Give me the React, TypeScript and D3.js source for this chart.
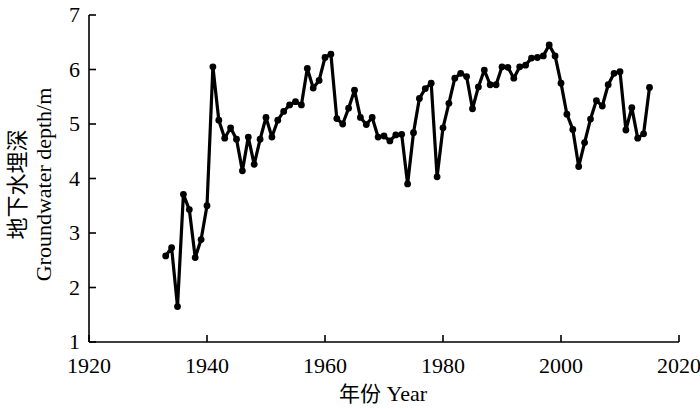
import * as d3 from 'd3'

const years = d3.range(1933, 2016)
const depth = [
  2.58, 2.73, 1.65, 3.71, 3.43, 2.55, 2.88, 3.5, 6.05, 5.07,
  4.74, 4.93, 4.72, 4.14, 4.76, 4.26, 4.72, 5.12, 4.76, 5.07,
  5.23, 5.35, 5.41, 5.35, 6.02, 5.66, 5.8, 6.22, 6.28, 5.1,
  5.0, 5.29, 5.62, 5.12, 4.99, 5.12, 4.76, 4.78, 4.69, 4.8,
  4.81, 3.9, 4.84, 5.47, 5.65, 5.75, 4.03, 4.93, 5.38, 5.84,
  5.93, 5.87, 5.28, 5.68, 5.99, 5.72, 5.72, 6.05, 6.04, 5.84,
  6.05, 6.08, 6.21, 6.22, 6.25, 6.45, 6.25, 5.75, 5.18, 4.9,
  4.22, 4.66, 5.09, 5.43, 5.33, 5.72, 5.93, 5.96, 4.89, 5.3,
  4.74, 4.82, 5.67,
]
const xTicks = [1920, 1940, 1960, 1980, 2000, 2020]
const yTicks = [1, 2, 3, 4, 5, 6, 7]

const W = 700
const H = 409
const m = { top: 15, right: 21, bottom: 67, left: 89 }
const FONT = '"Liberation Serif", "Times New Roman", "Noto Sans CJK SC", serif'
const CJK = '"Noto Sans CJK SC", sans-serif'

export default function App() {
  const x = d3.scaleLinear().domain([1920, 2020]).range([m.left, W - m.right])
  const y = d3.scaleLinear().domain([1, 7]).range([H - m.bottom, m.top])
  const pts = years.map((yr, i) => [yr, depth[i]] as [number, number])
  const line = d3.line<[number, number]>().x(d => x(d[0])).y(d => y(d[1]))
  const x0 = x(1920)
  const y0 = y(1)
  const midY = (y0 + y(7)) / 2 + 6

  return (
    <svg width={W} height={H} style={{ position: 'absolute', left: 0, top: 0, background: '#fff' }}
      fontFamily={FONT}>
      {/* axes */}
      <line x1={x0} x2={x(2020)} y1={y0} y2={y0} stroke="#000" strokeWidth={1.6} />
      <line x1={x0} x2={x0} y1={y0} y2={y(7)} stroke="#000" strokeWidth={1.6} />
      {xTicks.map(t => (
        <g key={t}>
          <line x1={x(t)} x2={x(t)} y1={y0} y2={y0 - 7} stroke="#000" strokeWidth={1.6} />
          <text x={x(t)} y={y0 + 31} textAnchor="middle" fontSize={22}>{t}</text>
        </g>
      ))}
      {yTicks.map(t => (
        <g key={t}>
          <line x1={x0} x2={x0 + 7} y1={y(t)} y2={y(t)} stroke="#000" strokeWidth={1.6} />
          <text x={x0 - 9} y={y(t) + 7} textAnchor="end" fontSize={22}>{t}</text>
        </g>
      ))}
      {/* series */}
      <path d={line(pts) ?? ''} fill="none" stroke="#000" strokeWidth={3.2} strokeLinejoin="round" />
      {pts.map(p => (
        <circle key={p[0]} cx={x(p[0])} cy={y(p[1])} r={3.4} fill="#000" />
      ))}
      {/* titles */}
      <text x={(x0 + x(2020)) / 2 - 1} y={H - 8} textAnchor="middle" fontSize={22}>
        <tspan fontFamily={CJK} fontSize={21}>年份</tspan> Year
      </text>
      <g transform={`translate(17, ${midY}) rotate(-90)`}>
        <text textAnchor="middle" dy={8} fontSize={22} fontFamily={CJK}>地下水埋深</text>
      </g>
      <g transform={`translate(43, ${midY}) rotate(-90)`}>
        <text textAnchor="middle" dy={8} fontSize={22}>Groundwater depth/m</text>
      </g>
    </svg>
  )
}
